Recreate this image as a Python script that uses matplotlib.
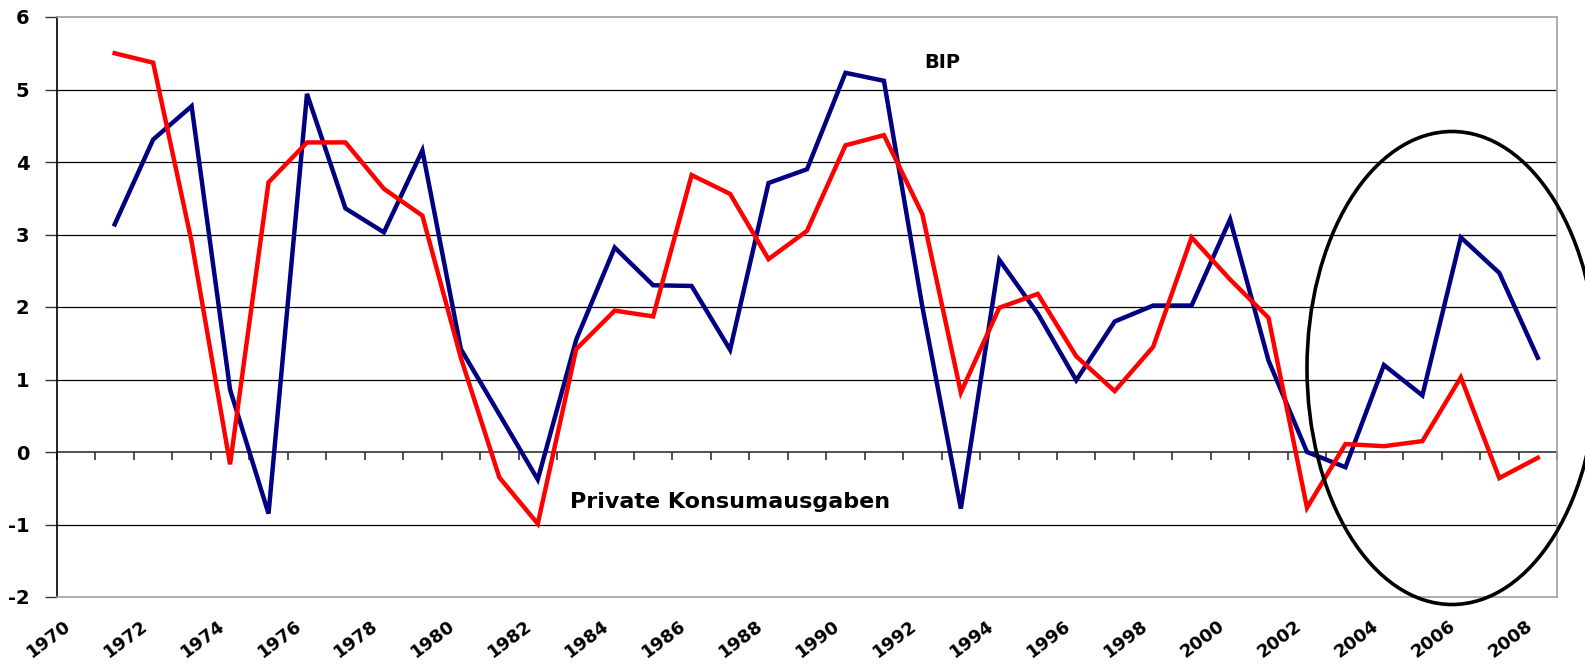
import numpy as np
import matplotlib
matplotlib.use('Agg')
import matplotlib.pyplot as plt
from matplotlib.patches import Ellipse
from matplotlib.transforms import ScaledTranslation

plt.rcParams['font.family'] = ['DejaVu Sans']

years = list(range(1971, 2009))
bip = [3.14, 4.31, 4.77, 0.86, -0.85, 4.94, 3.36, 3.03, 4.16, 1.42,
       0.52, -0.38, 1.55, 2.82, 2.30, 2.29, 1.41, 3.71, 3.90, 5.23,
       5.12, 2.00, -0.78, 2.65, 1.91, 0.99, 1.80, 2.02, 2.02, 3.21,
       1.26, 0.00, -0.21, 1.20, 0.78, 2.96, 2.47, 1.30]
konsum = [5.50, 5.37, 2.90, -0.17, 3.72, 4.27, 4.27, 3.63, 3.26, 1.30,
          -0.35, -0.99, 1.42, 1.95, 1.87, 3.82, 3.56, 2.66, 3.05, 4.23,
          4.37, 3.28, 0.82, 1.99, 2.18, 1.32, 0.84, 1.45, 2.96, 2.38,
          1.85, -0.77, 0.11, 0.08, 0.15, 1.03, -0.36, -0.08]
label_years = list(range(1970, 2009, 2))
year_labels = [str(y) for y in label_years]
y_ticks = list(range(-2, 7))

W, H = 1585, 664
fig = plt.figure(figsize=(W / 100, H / 100), dpi=100)
ax = fig.add_axes([57 / W, 67 / H, 1500 / W, 580 / H])
ax.set_xlim(1969.5, 2008.5)
ax.set_ylim(-2, 6)

# horizontal grid (zero line is the category axis below)
for v in y_ticks[1:-1]:
    if v != 0:
        ax.axhline(v, color='black', lw=0.9, zorder=1)

# category axis crossing at y = 0, ticks between the years
zero_axis = ax.secondary_xaxis(0.25)
zero_axis.spines['bottom'].set_color('#333333')
zero_axis.spines['bottom'].set_linewidth(1.2)
zero_axis.set_xticks(np.arange(1969.5, 2009, 1))
zero_axis.tick_params(direction='out', length=6, width=1.2, color='#333333', labelbottom=False)

ax.plot(years, bip, color='#000080', lw=3.2, solid_joinstyle='miter', zorder=3)
ax.plot(years, konsum, color='#FF0000', lw=3.2, solid_joinstyle='miter', zorder=4)

ax.text(1992.52, 5.37, 'BIP', ha='center', va='center', fontsize=14, fontweight='bold')
ax.text(1987.0, -0.77, 'Private Konsumausgaben', ha='center', va='baseline',
        fontsize=16, fontweight='bold')

ax.set_yticks(y_ticks)
ax.set_yticklabels([str(v) for v in y_ticks], fontsize=14, fontweight='bold')
ax.tick_params(axis='y', length=9, width=1, pad=11, color='#333333')

ax.set_xticks(label_years)
ax.set_xticklabels(year_labels, rotation=37, ha='right', va='top',
                   rotation_mode='anchor', fontsize=13, fontweight='bold')
ax.tick_params(axis='x', length=0, pad=14)
offset = ScaledTranslation(-0.13, 0, fig.dpi_scale_trans)
for lab in ax.get_xticklabels():
    lab.set_transform(lab.get_transform() + offset)

ax.spines['left'].set_color('black')
ax.spines['left'].set_linewidth(1.2)
for s in ['top', 'right', 'bottom']:
    ax.spines[s].set_color('#A0A0A0')
    ax.spines[s].set_linewidth(1.2)

ring = Ellipse((1452 / W, 1 - 368 / H), 290 / W, 473 / H, transform=fig.transFigure,
               fill=False, lw=2.6, edgecolor='black', zorder=10)
fig.add_artist(ring)

fig.savefig('out.png', dpi=100)
